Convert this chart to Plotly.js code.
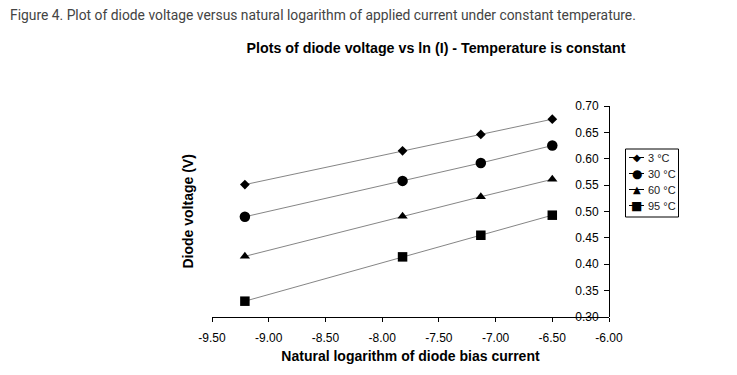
<!DOCTYPE html>
<html><head><meta charset="utf-8">
<script src="https://cdn.plot.ly/plotly-3.0.1.min.js"></script>
<style>body{margin:0;background:#fff}#chart{width:737px;height:375px}</style>
</head><body><div id="chart"></div>
<script>
const lnCurrent = [-9.21, -7.82, -7.13, -6.50];
const v3C  = [0.551, 0.615, 0.646, 0.675];
const v30C = [0.490, 0.558, 0.592, 0.625];
const v60C = [0.415, 0.491, 0.528, 0.561];
const v95C = [0.330, 0.414, 0.455, 0.493];
const seriesNames = ["3 °C", "30 °C", "60 °C", "95 °C"];
const xTicks = [-9.5, -9.0, -8.5, -8.0, -7.5, -7.0, -6.5, -6.0];
const yTicks = [0.30, 0.35, 0.40, 0.45, 0.50, 0.55, 0.60, 0.65, 0.70];

const L = 212, R = 128, T = 106, B = 58, W = 737, H = 375;
const PW = W - L - R, PH = H - T - B;
const px = x => (x - L) / PW;
const py = y => (H - B - y) / PH;

const symbols = ["diamond", "circle", "triangle-up", "square"];
const glyphs = ["◆", "●", "▲", "■"];
const glyphSizes = [10, 12, 10, 12];
const sizes = [7.5, 10.5, 9, 9.5];
const traces = [v3C, v30C, v60C, v95C].map((ys, i) => ({
  x: lnCurrent, y: ys, name: seriesNames[i], type: "scatter", mode: "lines+markers",
  line: {color: "#666", width: 0.8},
  marker: {symbol: symbols[i], size: sizes[i], color: "#000"}
}));

// manual legend (Excel-style compact box)
const shapes = [{type: "rect", xref: "paper", yref: "paper",
  x0: px(625.5), x1: px(678.5), y0: py(149), y1: py(217),
  line: {color: "#000", width: 1}, fillcolor: "#fff", layer: "above"}];
const annotations = [];
const rowY = [157.5, 173.5, 189.5, 205.5];
seriesNames.forEach((n, i) => {
  shapes.push({type: "line", xref: "paper", yref: "paper",
    x0: px(629), x1: px(644), y0: py(rowY[i]), y1: py(rowY[i]),
    line: {color: "#000", width: 1}, layer: "above"});
  annotations.push({text: glyphs[i], xref: "paper", yref: "paper", x: px(636.5), y: py(rowY[i]),
    xanchor: "center", yanchor: "middle", showarrow: false,
    font: {size: glyphSizes[i], family: "DejaVu Sans", color: "#000"}});
  annotations.push({text: n, xref: "paper", yref: "paper", x: px(646), y: py(rowY[i]),
    xanchor: "left", yanchor: "middle", showarrow: false,
    font: {size: 11, color: "#222"}});
});
annotations.push({text: "<b>Diode voltage (V)</b>", textangle: -90, xref: "paper", yref: "paper",
  x: px(187), y: 0.5, xanchor: "center", yanchor: "middle", showarrow: false, font: {size: 14}});
annotations.push({text: "Figure 4. Plot of diode voltage versus natural logarithm of applied current under constant temperature.",
  xref: "paper", yref: "paper", x: px(8), y: py(15), xanchor: "left", yanchor: "middle", showarrow: false,
  font: {size: 13.85, family: "Roboto, sans-serif", color: "#444"}});

const layout = {
  width: W, height: H,
  margin: {l: L, r: R, t: T, b: B},
  paper_bgcolor: "#fff", plot_bgcolor: "#fff",
  font: {family: "Liberation Sans, Arial, sans-serif", color: "#000", size: 12},
  title: {text: "<b>Plots of diode voltage vs ln (I) - Temperature is constant</b>",
          font: {size: 14.25, family: "Liberation Sans, Arial, sans-serif"},
          x: 436 / W, xanchor: "center", y: 1 - 48.5 / H, yanchor: "middle"},
  xaxis: {range: [-9.5, -6.0], tickvals: xTicks, ticktext: xTicks.map(v => v.toFixed(2)),
          showgrid: false, zeroline: false, showline: true, linecolor: "#000", linewidth: 1,
          ticks: "outside", ticklen: 4, tickcolor: "#000", tickfont: {size: 12},
          ticklabelstandoff: 6,
          title: {text: "<b>Natural logarithm of diode bias current</b>", font: {size: 14}, standoff: 6}},
  yaxis: {range: [0.30, 0.70], tickvals: yTicks, ticktext: yTicks.map(v => v.toFixed(2)),
          anchor: "free", position: 1, side: "left", ticks: "outside", ticklen: 5, tickcolor: "#000",
          showgrid: false, zeroline: false, showline: true, linecolor: "#000", linewidth: 1,
          tickfont: {size: 12}, ticklabelstandoff: 3},
  showlegend: false,
  shapes: shapes,
  annotations: annotations
};
Plotly.newPlot("chart", traces, layout, {displayModeBar: false, staticPlot: true});
</script></body></html>
